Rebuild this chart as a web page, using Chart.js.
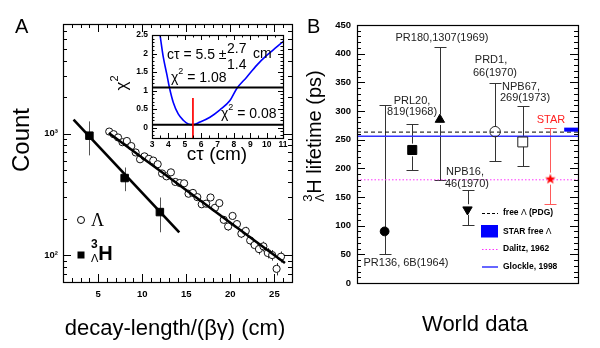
<!DOCTYPE html>
<html>
<head>
<meta charset="utf-8">
<script src="https://cdn.jsdelivr.net/npm/chart.js@4.4.1/dist/chart.umd.min.js"></script>
<style>
  body { margin: 0; background: #fff; width: 600px; height: 348px; overflow: hidden; position: relative; }
  canvas { position: absolute; }
</style>
</head>
<body>
<canvas id="cA" style="left:0px;top:0px" width="300" height="348"></canvas>
<canvas id="cIn" style="left:100px;top:28px" width="195" height="136"></canvas>
<canvas id="cB" style="left:300px;top:0px" width="300" height="348"></canvas>
<script>
// ---- panel A : Lambda and hypertriton decay-length spectra ----
var lambdaX = [6.25, 6.75, 7.25, 7.75, 8.25, 8.75, 9.25, 9.75, 10.25, 10.75,
               11.25, 11.75, 12.25, 12.75, 13.25, 13.75, 14.25, 14.75, 15.25, 15.75,
               16.25, 16.75, 17.25, 17.75, 18.25, 18.75, 19.25, 19.75, 20.25, 20.75,
               21.25, 21.75, 22.25, 22.75, 23.25, 23.75, 24.25, 24.75, 25.25, 25.75];
var lambdaCount = [1040, 990, 930, 850, 870, 790, 700, 615, 650, 620,
                   600, 560, 470, 445, 480, 400, 392, 390, 320, 325,
                   300, 262, 265, 298, 245, 268, 195, 172, 210, 180,
                   150, 158, 132, 121, 112, 118, 104, 100, 77, 97];
var lambdaErr = [32, 31, 30, 29, 29, 28, 26, 25, 25, 25,
                 24, 24, 22, 21, 22, 20, 20, 20, 18, 18,
                 17, 16, 16, 17, 16, 16, 14, 13, 14, 13,
                 12, 13, 11, 11, 11, 11, 10, 10, 9, 10];
var hyperX = [4, 8, 12];
var hyperCount = [962, 431, 226];
var hyperErr = [300, 95, 72];
var lambdaFitX = [6.2, 26.2];
var lambdaFitY = [1013, 86];
var hyperFitX = [2.2, 14.2];
var hyperFitY = [1306, 154];
var ticksAx = [5, 10, 15, 20, 25];
var ticksAy = [100, 1000];
var labelsAy = ['10²', '10³'];

// ---- inset : chi2 scan of c*tau ----
var scanCt   = [3.45, 3.49, 3.69, 3.9, 4.06, 4.3, 4.6, 4.91, 5.21, 5.5, 5.93, 6.54, 7.15, 7.76, 8.17, 8.78, 9.39, 10.0, 10.6, 10.97, 11.05];
var scanChi2 = [2.62, 2.5, 1.9, 1.45, 1.09, 0.68, 0.37, 0.2, 0.1, 0.08, 0.15, 0.28, 0.48, 0.73, 1.05, 1.36, 1.68, 1.95, 2.17, 2.31, 2.34];
var chi2Min = 0.08;
var chi2Up = 1.08;
var ctBest = 5.5;
var ticksInX = [3, 4, 5, 6, 7, 8, 9, 10, 11];
var ticksInY = [0, 0.5, 1, 1.5, 2, 2.5];

// ---- panel B : world data on the hypertriton lifetime ----
var refNames = ['PR136, 6B(1964)', 'PRL20, 819(1968)', 'PR180,1307(1969)', 'NPB16, 46(1970)',
                'PRD1, 66(1970)', 'NPB67, 269(1973)', 'STAR'];
var refX    = [1, 2, 3, 4, 5, 6, 7];
var refLife = [90, 232, 285, 128, 264, 246, 182];
var refLo   = [50, 197, 180, 102, 212, 204, 137];
var refHi   = [310, 277, 412, 162, 348, 308, 271];
var pdgLife = 263.2;
var glockleLife = 256;
var dalitzLife = 180;
var starFreeLife = [264, 271];
var ticksBy = [0, 50, 100, 150, 200, 250, 300, 350, 400, 450];

var FONT = '"Liberation Sans", Arial, Helvetica, sans-serif';
Chart.defaults.font.family = FONT;
Chart.defaults.color = '#000';

function range(a, b, step) {
  var r = [];
  for (var v = a; v <= b + 1e-9; v += step) r.push(Math.round(v * 1000) / 1000);
  return r;
}
function pts(xs, ys) { return xs.map(function (x, i) { return { x: x, y: ys[i] }; }); }

// text made of pieces (sub/superscripts); adv:false keeps the pen where it is
function drawParts(ctx, parts, x, y, align) {
  var total = 0, maxw = 0;
  parts.forEach(function (p) {
    ctx.font = p.f;
    maxw = Math.max(maxw, ctx.measureText(p.t).width);
    if (p.adv !== false) { total += maxw; maxw = 0; }
  });
  var cx = align === 'center' ? x - total / 2 : (align === 'right' ? x - total : x);
  maxw = 0;
  ctx.textAlign = 'left';
  ctx.textBaseline = 'middle';
  parts.forEach(function (p) {
    ctx.font = p.f;
    ctx.fillStyle = p.c || '#000';
    ctx.fillText(p.t, cx, y + (p.dy || 0));
    maxw = Math.max(maxw, ctx.measureText(p.t).width);
    if (p.adv !== false) { cx += maxw; maxw = 0; }
  });
}
function rotated(ctx, x, y, fn) {
  ctx.save(); ctx.translate(x, y); ctx.rotate(-Math.PI / 2); fn(); ctx.restore();
}
function line(ctx, x1, y1, x2, y2) {
  ctx.beginPath(); ctx.moveTo(x1, y1); ctx.lineTo(x2, y2); ctx.stroke();
}

// frame, inward ticks and tick labels, ROOT style
function framePlugin(spec) {
  return {
    id: 'frame',
    beforeDatasetsDraw: function (chart) {
      if (!spec.fill) return;
      var a = chart.chartArea, ctx = chart.ctx;
      ctx.save();
      ctx.fillStyle = spec.fill;
      ctx.fillRect(a.left, a.top, a.right - a.left, a.bottom - a.top);
      ctx.restore();
    },
    afterDatasetsDraw: function (chart) {
      var a = chart.chartArea, ctx = chart.ctx;
      ctx.save();
      ctx.strokeStyle = '#000';
      ctx.lineWidth = 1;
      ['x', 'y'].forEach(function (k) {
        var s = spec[k];
        if (!s) return;
        var scale = chart.scales[k];
        [[s.major, s.len[0]], [s.minor, s.len[1]]].forEach(function (set) {
          set[0].forEach(function (v) {
            var p = Math.round(scale.getPixelForValue(v)) + 0.5;
            if (k === 'x') {
              if (p < a.left || p > a.right) return;
              if (s.sides.indexOf('bottom') >= 0) line(ctx, p, a.bottom, p, a.bottom - set[1]);
              if (s.sides.indexOf('top') >= 0) line(ctx, p, a.top, p, a.top + set[1]);
            } else {
              if (p < a.top || p > a.bottom) return;
              if (s.sides.indexOf('left') >= 0) line(ctx, a.left, p, a.left + set[1], p);
              if (s.sides.indexOf('right') >= 0) line(ctx, a.right, p, a.right - set[1], p);
            }
          });
        });
        if (s.labels) {
          ctx.font = s.font;
          ctx.fillStyle = '#000';
          ctx.textBaseline = 'middle';
          ctx.textAlign = k === 'x' ? 'center' : 'right';
          s.major.forEach(function (v, i) {
            var p = scale.getPixelForValue(v);
            if (k === 'x') ctx.fillText(s.labels[i], p, a.bottom + s.off);
            else ctx.fillText(s.labels[i], a.left - s.off, p);
          });
        }
      });
      ctx.lineWidth = 1.2;
      ctx.strokeRect(Math.round(a.left) + 0.5, Math.round(a.top) + 0.5,
                     Math.round(a.right - a.left), Math.round(a.bottom - a.top));
      ctx.restore();
    }
  };
}

var tickFont = 'bold 9.5px ' + FONT;

// ================= panel A =================
var logMinor = [60, 70, 80, 90, 200, 300, 400, 500, 600, 700, 800, 900,
                2000, 3000, 4000, 5000, 6000, 7000, 8000];

var errorsA = {
  id: 'errorsA',
  beforeDatasetsDraw: function (chart) {
    var ctx = chart.ctx, sx = chart.scales.x, sy = chart.scales.y;
    ctx.save();
    ctx.strokeStyle = '#333';
    ctx.lineWidth = 1;
    lambdaX.forEach(function (x, i) {
      var px = Math.round(sx.getPixelForValue(x)) + 0.5;
      line(ctx, px, sy.getPixelForValue(lambdaCount[i] - lambdaErr[i]), px, sy.getPixelForValue(lambdaCount[i] + lambdaErr[i]));
    });
    ctx.strokeStyle = '#555';
    hyperX.forEach(function (x, i) {
      var px = Math.round(sx.getPixelForValue(x)) + 0.5;
      line(ctx, px, sy.getPixelForValue(hyperCount[i] - hyperErr[i]), px, sy.getPixelForValue(hyperCount[i] + hyperErr[i]));
    });
    ctx.restore();
  }
};

var textA = {
  id: 'textA',
  afterDraw: function (chart) {
    var ctx = chart.ctx;
    ctx.save();
    drawParts(ctx, [{ t: 'A', f: '20px ' + FONT }], 15, 27, 'left');
    rotated(ctx, 22, 140, function () {
      drawParts(ctx, [{ t: 'Count', f: '24px ' + FONT }], 0, 0, 'center');
    });
    drawParts(ctx, [{ t: 'decay-length/(βγ) (cm)', f: '22px ' + FONT }], 175, 329, 'center');
    // legend
    ctx.strokeStyle = '#000'; ctx.lineWidth = 1;
    ctx.beginPath(); ctx.arc(81, 220, 3.5, 0, Math.PI * 2); ctx.stroke();
    drawParts(ctx, [{ t: 'Λ', f: '18px "Liberation Serif", "Times New Roman", serif' }], 91, 221, 'left');
    ctx.fillStyle = '#000';
    ctx.fillRect(77.5, 251.5, 7, 7);
    drawParts(ctx, [
      { t: '3', f: 'bold 12px ' + FONT, dy: -9, adv: false },
      { t: 'Λ', f: '11px ' + FONT, dy: 5 },
      { t: 'H', f: 'bold 20px ' + FONT, dy: 0 }
    ], 91, 254, 'left');
    ctx.restore();
  }
};

new Chart(document.getElementById('cA'), {
  type: 'scatter',
  data: {
    datasets: [
      { type: 'line', data: pts(lambdaFitX, lambdaFitY), borderColor: '#000', borderWidth: 2.6, pointRadius: 0 },
      { type: 'line', data: pts(hyperFitX, hyperFitY), borderColor: '#000', borderWidth: 2.6, pointRadius: 0 },
      { data: pts(hyperX, hyperCount), pointStyle: 'rect', pointRadius: 5.3,
        backgroundColor: '#000', borderColor: '#000', borderWidth: 1 },
      { data: pts(lambdaX, lambdaCount), pointStyle: 'circle', pointRadius: 3.6,
        backgroundColor: '#fff', borderColor: '#111', borderWidth: 1 }
    ]
  },
  options: {
    responsive: false, animation: false, devicePixelRatio: 1,
    layout: { padding: { left: 63, top: 24, right: 8, bottom: 66 } },
    plugins: { legend: { display: false }, tooltip: { enabled: false } },
    scales: {
      x: { type: 'linear', min: 1, max: 27, display: false },
      y: { type: 'logarithmic', min: 60, max: 8000, display: false }
    }
  },
  plugins: [
    framePlugin({
      x: { major: ticksAx, minor: range(2, 26, 1), sides: ['bottom', 'top'], len: [8, 4],
           labels: ticksAx.map(String), font: tickFont, off: 12 },
      y: { major: ticksAy, minor: logMinor, sides: ['left', 'right'], len: [8, 4],
           labels: labelsAy, font: tickFont, off: 5 }
    }),
    errorsA, textA
  ]
});

// ================= inset =================
var textIn = {
  id: 'textIn',
  afterDatasetsDraw: function (chart) {
    var ctx = chart.ctx, f = '14px ' + FONT;
    ctx.save();
    drawParts(ctx, [{ t: 'cτ = 5.5 ±', f: f }], 67, 27, 'left');
    drawParts(ctx, [{ t: '2.7', f: f }], 127, 21, 'left');
    drawParts(ctx, [{ t: '1.4', f: f }], 127, 37, 'left');
    drawParts(ctx, [{ t: 'cm', f: f }], 153, 26, 'left');
    drawParts(ctx, [{ t: 'χ', f: f }, { t: '2', f: '9px ' + FONT, dy: -6 }, { t: ' = 1.08', f: f }], 71, 50, 'left');
    drawParts(ctx, [{ t: 'χ', f: f }, { t: '2', f: '9px ' + FONT, dy: -6 }, { t: ' = 0.08', f: f }], 121, 86, 'left');
    ctx.restore();
  },
  afterDraw: function (chart) {
    var ctx = chart.ctx;
    ctx.save();
    rotated(ctx, 22, 55, function () {
      drawParts(ctx, [{ t: 'χ', f: '17px ' + FONT }, { t: '2', f: '11px ' + FONT, dy: -7 }], 0, 0, 'center');
    });
    drawParts(ctx, [{ t: 'cτ (cm)', f: '19px ' + FONT }], 117, 127, 'center');
    ctx.restore();
  }
};

new Chart(document.getElementById('cIn'), {
  type: 'scatter',
  data: {
    datasets: [
      { type: 'line', data: [{ x: ctBest, y: -0.28 }, { x: ctBest, y: 0.8 }], borderColor: '#ff0000', borderWidth: 1.7, pointRadius: 0 },
      { type: 'line', data: [{ x: 3, y: chi2Up }, { x: 11, y: chi2Up }], borderColor: '#000', borderWidth: 2, pointRadius: 0 },
      { type: 'line', data: [{ x: 3, y: chi2Min }, { x: 11, y: chi2Min }], borderColor: '#000', borderWidth: 2, pointRadius: 0 },
      { type: 'line', data: pts(scanCt, scanChi2), borderColor: '#0000ff', borderWidth: 1.6,
        pointRadius: 0, cubicInterpolationMode: 'monotone' }
    ]
  },
  options: {
    responsive: false, animation: false, devicePixelRatio: 1,
    layout: { padding: { left: 52, top: 7, right: 12, bottom: 26 } },
    plugins: { legend: { display: false }, tooltip: { enabled: false } },
    scales: {
      x: { type: 'linear', min: 3, max: 11, display: false },
      y: { type: 'linear', min: -0.28, max: 2.5, display: false }
    }
  },
  plugins: [
    framePlugin({
      fill: '#fff',
      x: { major: ticksInX, minor: range(3.5, 10.5, 1), sides: ['bottom', 'top'], len: [5, 2.5],
           labels: ticksInX.map(String), font: 'bold 8.5px ' + FONT, off: 7 },
      y: { major: ticksInY, minor: range(-0.2, 2.4, 0.1), sides: ['left', 'right'], len: [5, 2.5],
           labels: ticksInY.map(String), font: 'bold 8.5px ' + FONT, off: 4 }
    }),
    textIn
  ]
});

// ================= panel B =================
var starImg = document.createElement('canvas');
starImg.width = 12; starImg.height = 12;
(function () {
  var c = starImg.getContext('2d');
  c.fillStyle = '#ff0000';
  c.beginPath();
  for (var k = 0; k < 10; k++) {
    var r = k % 2 ? 2.3 : 5.5, ang = -Math.PI / 2 + k * Math.PI / 5;
    c.lineTo(6 + r * Math.cos(ang), 6.5 + r * Math.sin(ang));
  }
  c.closePath();
  c.fill();
})();

var markerRadius = [4.4, 6.4, 5.4, 5.4, 5.2, 7, 6];

var errorsB = {
  id: 'errorsB',
  beforeDatasetsDraw: function (chart) {
    var ctx = chart.ctx, sx = chart.scales.x, sy = chart.scales.y;
    ctx.save();
    ctx.lineWidth = 1;
    refX.forEach(function (x, i) {
      ctx.strokeStyle = i === 6 ? 'rgb(255,90,90)' : '#333';
      var px = Math.round(sx.getPixelForValue(x)) + 0.5;
      var pv = sy.getPixelForValue(refLife[i]);
      var pl = Math.round(sy.getPixelForValue(refLo[i])) + 0.5;
      var ph = Math.round(sy.getPixelForValue(refHi[i])) + 0.5;
      var g = i === 5 ? 5 : markerRadius[i];
      line(ctx, px, pl, px, pv + g);
      line(ctx, px, pv - g, px, ph);
      line(ctx, px - 6, pl, px + 6, pl);
      line(ctx, px - 6, ph, px + 6, ph);
    });
    ctx.restore();
  },
  afterDatasetsDraw: function (chart) {
    var ctx = chart.ctx, sx = chart.scales.x, sy = chart.scales.y;
    var x0 = sx.getPixelForValue(7.5), x1 = sx.getPixelForValue(8);
    var y0 = sy.getPixelForValue(starFreeLife[1]), y1 = sy.getPixelForValue(starFreeLife[0]);
    ctx.save();
    ctx.fillStyle = '#0000ff';
    ctx.fillRect(x0, y0, x1 - x0, y1 - y0);
    ctx.restore();
  }
};

var annotB = [
  { t: 'PR180,1307(1969)', x: 142, y: 38 },
  { t: 'PRD1,', x: 191, y: 60 },
  { t: '66(1970)', x: 195, y: 73 },
  { t: 'NPB67,', x: 221, y: 87 },
  { t: '269(1973)', x: 225, y: 98 },
  { t: 'PRL20,', x: 112, y: 101 },
  { t: '819(1968)', x: 112, y: 112 },
  { t: 'NPB16,', x: 165, y: 172 },
  { t: '46(1970)', x: 167, y: 184 },
  { t: 'PR136, 6B(1964)', x: 106, y: 263 }
];

var textB = {
  id: 'textB',
  afterDraw: function (chart) {
    var ctx = chart.ctx, f = '11px ' + FONT;
    ctx.save();
    drawParts(ctx, [{ t: 'B', f: '20px ' + FONT }], 7, 27, 'left');
    rotated(ctx, 15, 136, function () {
      drawParts(ctx, [
        { t: '3', f: '13px ' + FONT, dy: -7, adv: false },
        { t: 'Λ', f: '12px ' + FONT, dy: 6 },
        { t: 'H lifetime (ps)', f: '20px ' + FONT }
      ], 0, 0, 'center');
    });
    drawParts(ctx, [{ t: 'World data', f: '22px ' + FONT }], 175, 325, 'center');
    annotB.forEach(function (a) { drawParts(ctx, [{ t: a.t, f: f, c: '#222' }], a.x, a.y, 'center'); });
    drawParts(ctx, [{ t: 'STAR', f: '11px ' + FONT, c: '#ff2020' }], 251, 120, 'center');

    // legend
    var lb = 'bold 8.5px ' + FONT, ln = '8.5px ' + FONT;
    ctx.lineWidth = 1;
    ctx.strokeStyle = '#000'; ctx.setLineDash([3, 2]);
    line(ctx, 182, 213.5, 198, 213.5);
    ctx.setLineDash([]);
    drawParts(ctx, [{ t: 'free ', f: lb }, { t: 'Λ', f: ln }, { t: ' (PDG)', f: lb }], 203, 213, 'left');
    ctx.fillStyle = '#0000ff';
    ctx.fillRect(181, 225, 17, 12.5);
    drawParts(ctx, [{ t: 'STAR free ', f: lb }, { t: 'Λ', f: ln }], 203, 231.5, 'left');
    ctx.strokeStyle = '#ff33ff'; ctx.setLineDash([1.5, 2]);
    line(ctx, 182, 249.5, 198, 249.5);
    ctx.setLineDash([]);
    drawParts(ctx, [{ t: 'Dalitz, 1962', f: lb }], 203, 249, 'left');
    ctx.strokeStyle = '#3333ff'; ctx.lineWidth = 1.5;
    line(ctx, 182, 267, 198, 267);
    drawParts(ctx, [{ t: 'Glockle, 1998', f: lb }], 203, 267, 'left');
    ctx.restore();
  }
};

new Chart(document.getElementById('cB'), {
  type: 'scatter',
  data: {
    datasets: [
      { data: pts(refX, refLife),
        pointStyle: ['circle', 'rect', 'triangle', 'triangle', 'circle', 'rect', starImg],
        pointRadius: markerRadius,
        pointRotation: [0, 0, 0, 180, 0, 0, 0],
        backgroundColor: ['#000', '#000', '#000', '#000', 'rgba(0,0,0,0)', 'rgba(0,0,0,0)', '#f00'],
        borderColor: ['#000', '#000', '#000', '#000', '#222', '#222', '#f00'],
        borderWidth: 1 },
      { type: 'line', data: [{ x: 0, y: pdgLife }, { x: 8, y: pdgLife }], borderColor: '#000',
        borderWidth: 1, borderDash: [4, 3], pointRadius: 0 },
      { type: 'line', data: [{ x: 0, y: glockleLife }, { x: 8, y: glockleLife }], borderColor: '#3333ff',
        borderWidth: 1.5, pointRadius: 0 },
      { type: 'line', data: [{ x: 0, y: dalitzLife }, { x: 8, y: dalitzLife }], borderColor: '#ff33ff',
        borderWidth: 1, borderDash: [1.5, 2], pointRadius: 0 }
    ]
  },
  options: {
    responsive: false, animation: false, devicePixelRatio: 1,
    layout: { padding: { left: 57, top: 25, right: 22, bottom: 65 } },
    plugins: { legend: { display: false }, tooltip: { enabled: false } },
    scales: {
      x: { type: 'linear', min: 0, max: 8, display: false },
      y: { type: 'linear', min: 0, max: 450, display: false }
    }
  },
  plugins: [
    framePlugin({
      y: { major: ticksBy, minor: range(10, 440, 10), sides: ['left', 'right'], len: [8, 4],
           labels: ticksBy.map(String), font: tickFont, off: 6 }
    }),
    errorsB, textB
  ]
});
</script>
</body>
</html>
